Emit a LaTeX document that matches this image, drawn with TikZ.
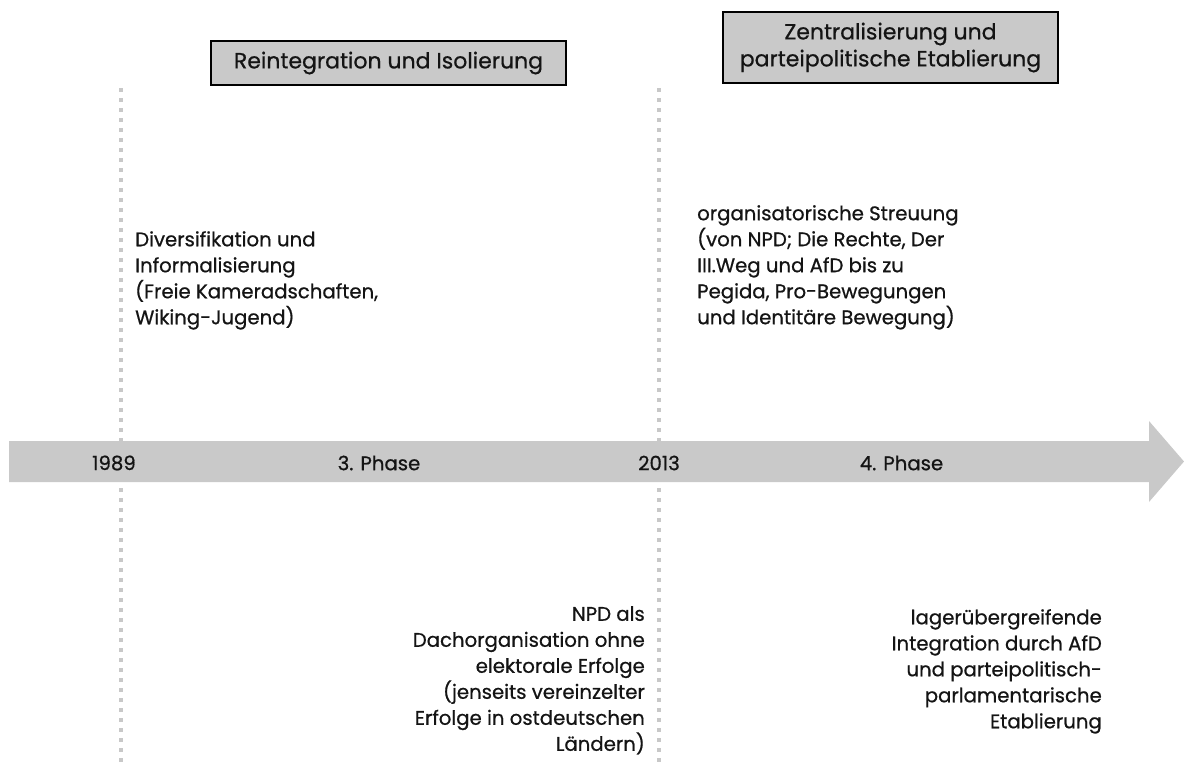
\documentclass[tikz,border=0pt]{standalone}
\usepackage{fontspec}
\setmainfont{Poppins}[FakeBold=0.7]
\usepackage{xcolor}
\definecolor{bargray}{HTML}{C9C9C9}
\definecolor{dotgray}{HTML}{C8C8C8}
\definecolor{inkgray}{HTML}{141414}
\tikzset{
  phasebox/.style={draw=black,line width=1.3pt,fill=bargray,inner sep=0pt,align=center,
    font=\fontsize{22}{27}\selectfont},
  datelabel/.style={inner sep=0pt,anchor=center},
  notetext/.style={inner sep=0pt},
  dotline/.style={dotgray,line width=4pt,dash pattern=on 4pt off 6pt}
}
\begin{document}
\begin{tikzpicture}[x=1pt,y=-1pt,font=\fontsize{19.7}{26}\selectfont,text=inkgray]
\useasboundingbox (0,0) rectangle (1184,764);
% dotted separators
\draw[dotline] (121,88) -- (121,764);
\draw[dotline] (659,88) -- (659,764);
% time arrow
\fill[bargray] (9,441) -- (1149,441) -- (1149,421) -- (1184,461.5) -- (1149,502) -- (1149,482) -- (9,482) -- cycle;
\node[datelabel] (y1989) at (114,463) {1989};
\node[datelabel] (phase3) at (379,463) {3. Phase};
\node[datelabel] (y2013) at (659,463) {2013};
\node[datelabel] (phase4) at (901.5,463) {4. Phase};
% phase titles
\node[phasebox,minimum width=355pt,minimum height=44pt] (title3) at (388.5,63) {Reintegration und Isolierung};
\node[phasebox,minimum width=335pt,minimum height=71pt] (title4) at (890.5,47.5) {Zentralisierung und\\parteipolitische Etablierung};
% notes above
\node[notetext,anchor=north west,align=left] (above3) at (135,231) {Diversifikation und\\Informalisierung\\(Freie Kameradschaften,\\Wiking-Jugend)};
\node[notetext,anchor=north west,align=left] (above4) at (697,205) {organisatorische Streuung\\(von NPD; Die Rechte, Der\\III.Weg und AfD bis zu\\Pegida, Pro-Bewegungen\\und Identitäre Bewegung)};
% notes below
\node[notetext,anchor=north east,align=right] (below3) at (645,606) {NPD als\\Dachorganisation ohne\\elektorale Erfolge\\(jenseits vereinzelter\\Erfolge in ostdeutschen\\Ländern)};
\node[notetext,anchor=north east,align=right] (below4) at (1102,609) {lagerübergreifende\\Integration durch AfD\\und parteipolitisch-\\parlamentarische\\Etablierung};
\end{tikzpicture}
\end{document}
